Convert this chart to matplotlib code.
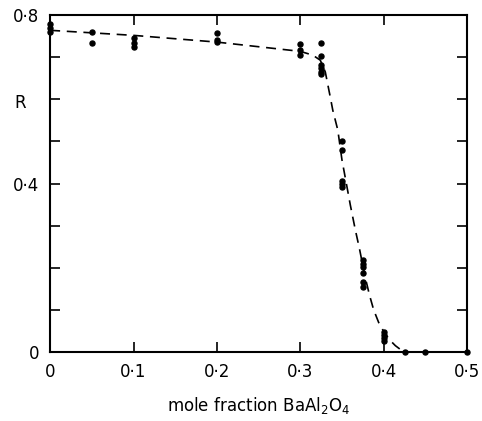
import numpy as np
import matplotlib
matplotlib.use("Agg")
import matplotlib.pyplot as plt
from matplotlib.ticker import MultipleLocator, FuncFormatter

# measured points (mole fraction, R)
x_pts = [0, 0, 0,
         0.05, 0.05,
         0.1, 0.1, 0.1,
         0.2, 0.2, 0.2,
         0.3, 0.3, 0.3,
         0.325, 0.325, 0.325, 0.325, 0.325, 0.325,
         0.35, 0.35, 0.35, 0.35, 0.35,
         0.375, 0.375, 0.375, 0.375, 0.375, 0.375,
         0.4, 0.4, 0.4, 0.4,
         0.425, 0.45, 0.5]
r_pts = [0.78, 0.77, 0.76,
         0.76, 0.735,
         0.745, 0.735, 0.725,
         0.757, 0.742, 0.737,
         0.731, 0.718, 0.706,
         0.733, 0.703, 0.682, 0.674, 0.666, 0.660,
         0.50, 0.48, 0.405, 0.398, 0.392,
         0.218, 0.21, 0.202, 0.187, 0.165, 0.155,
         0.048, 0.04, 0.033, 0.025,
         0.0, 0.0, 0.0]

# dashed guide curve
curve_x = [0, 0.1, 0.2, 0.3, 0.315, 0.324, 0.33, 0.336, 0.339, 0.345, 0.350,
           0.356, 0.360, 0.366, 0.371, 0.375, 0.379, 0.383, 0.388, 0.394,
           0.401, 0.408, 0.414, 0.420, 0.426]
curve_r = [0.764, 0.752, 0.736, 0.714, 0.705, 0.693, 0.665, 0.605, 0.574, 0.527, 0.456,
           0.392, 0.349, 0.290, 0.245, 0.205, 0.168, 0.135, 0.100, 0.070,
           0.045, 0.027, 0.015, 0.006, 0.0]

x_ticks_lab = {0: "0", 1: "0·1", 2: "0·2", 3: "0·3", 4: "0·4", 5: "0·5"}
y_ticks_lab = {0: "0", 4: "0·4", 8: "0·8"}

plt.rcParams['font.family'] = ['DejaVu Sans']
fig = plt.figure(figsize=(4.82, 4.21), dpi=100)
ax = fig.add_axes([0.104, 0.164, 0.865, 0.800])

ax.plot(curve_x, curve_r, color="black", lw=1.2, dashes=(6, 4))
ax.plot(x_pts, r_pts, "o", color="black", ms=3.6, clip_on=False)

ax.set_xlim(0, 0.5)
ax.set_ylim(0, 0.8)
ax.xaxis.set_major_locator(MultipleLocator(0.1))
ax.yaxis.set_major_locator(MultipleLocator(0.1))
ax.xaxis.set_major_formatter(FuncFormatter(lambda v, p: x_ticks_lab.get(int(round(v * 10)), "")))
ax.yaxis.set_major_formatter(FuncFormatter(lambda v, p: y_ticks_lab.get(int(round(v * 10)), "")))
ax.tick_params(direction="in", length=7, width=1.2, top=True, right=True,
               labelsize=12, pad=8)
for s in ax.spines.values():
    s.set_linewidth(1.5)

ax.set_xlabel(r"mole fraction BaAl$_2$O$_4$", fontsize=12, labelpad=10)
ax.set_ylabel("R", rotation=0, fontsize=12, va="center", ha="center")
ax.yaxis.set_label_coords(-0.072, 0.74)

fig.savefig("out.png", dpi=100)
